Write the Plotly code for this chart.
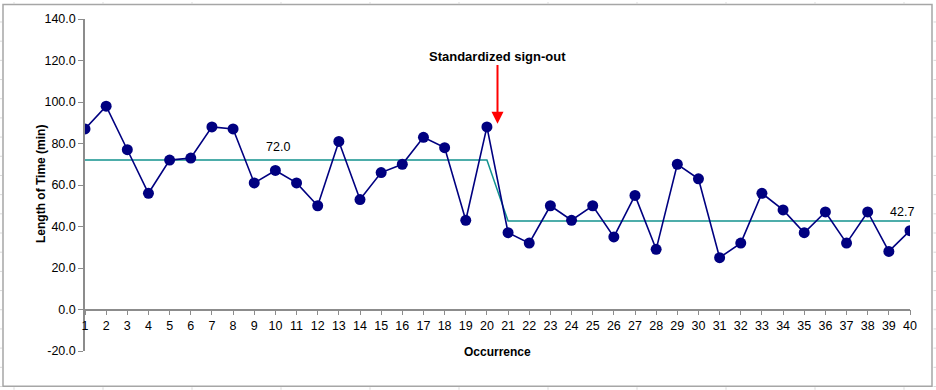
import plotly.graph_objects as go

occurrence = list(range(1, 41))
minutes = [87, 98, 77, 56, 72, 73, 88, 87, 61, 67,
           61, 50, 81, 53, 66, 70, 83, 78, 43, 88,
           37, 32, 50, 43, 50, 35, 55, 29, 70, 63,
           25, 32, 56, 48, 37, 47, 32, 47, 28, 38]
center_x = [1, 20, 21, 40]
center_y = [72.0, 72.0, 42.7, 42.7]
tick_labels = [str(i) for i in occurrence]

W, H = 936, 390
L, R, T, B = 85, 26, 17, 39
pw, ph = W - L - R, H - T - B
def px(x):
    return (x - L) / pw
def py(y):
    return (H - B - y) / ph

fig = go.Figure()
fig.add_trace(go.Scatter(x=center_x, y=center_y, mode="lines",
                         line=dict(color="#13938F", width=1.5), hoverinfo="skip"))
fig.add_trace(go.Scatter(x=occurrence, y=minutes, mode="lines+markers",
                         line=dict(color="#000080", width=1.6),
                         marker=dict(color="#000080", size=11)))

ymin, ymax = -20, 140
fig.update_layout(
    width=W, height=H, showlegend=False,
    margin=dict(l=L, r=R, t=T, b=B),
    plot_bgcolor="white", paper_bgcolor="white",
    font=dict(family="Liberation Sans, Arial", size=12.5, color="#000"),
    xaxis=dict(range=[1, 40], tickmode="array", tickvals=occurrence, ticktext=tick_labels,
               showgrid=False, zeroline=False, showline=True, linecolor="#8c8c8c", linewidth=1.5,
               ticks="outside", ticklen=5, tickcolor="#8c8c8c", anchor="free",
               position=(0 - ymin) / (ymax - ymin), tickfont=dict(size=12.5)),
    yaxis=dict(range=[ymin, ymax], tickvals=[-20, 0, 20, 40, 60, 80, 100, 120, 140],
               ticktext=["-20.0", "0.0", "20.0", "40.0", "60.0", "80.0", "100.0", "120.0", "140.0"],
               showgrid=False, zeroline=False, showline=True, linecolor="#8c8c8c", linewidth=1.5,
               ticks="outside", ticklen=5, tickcolor="#8c8c8c", tickfont=dict(size=12.5)),
)

# axis titles
fig.add_annotation(x=px(497), y=py(361), xref="paper", yref="paper", text="<b>Occurrence</b>",
                   showarrow=False, font=dict(size=12))
fig.add_annotation(x=px(32), y=py(183), xref="paper", yref="paper", text="<b>Length of Time (min)</b>",
                   showarrow=False, textangle=-90, font=dict(size=12))

# center line labels
fig.add_annotation(x=10.1, y=78.5, text="72.0", showarrow=False, font=dict(size=12.5))
fig.add_annotation(x=39.6, y=46.8, text="42.7", showarrow=False, font=dict(size=12.5))

# intervention annotation
fig.add_annotation(x=20.5, y=89.5, ax=20.5, ay=118.5, axref="x", ayref="y",
                   text="", showarrow=True, arrowhead=2, arrowsize=1.2, arrowwidth=2,
                   arrowcolor="#ff0000")
fig.add_annotation(x=px(497), y=py(45), xref="paper", yref="paper",
                   text="<b>Standardized sign-out</b>", showarrow=False,
                   font=dict(family="Liberation Sans Narrow, Arial Narrow, Liberation Sans", size=13))

# chart frame and spreadsheet cell borders
shapes = [dict(type="rect", xref="paper", yref="paper", x0=px(3), x1=px(932), y0=py(386.5), y1=py(2.5),
               line=dict(color="#a6a6a6", width=1.5), layer="below")]
for xc in [14, 103, 192, 281, 370, 459, 548, 637, 726, 815, 904]:
    for (ya, yb) in [(0, 2), (387.5, 390)]:
        shapes.append(dict(type="line", xref="paper", yref="paper", x0=px(xc), x1=px(xc),
                           y0=py(ya), y1=py(yb), line=dict(color="#d9d9d9", width=1)))
yc = 20
while yc < 390:
    for (xa, xb) in [(0, 2), (933.5, 936)]:
        shapes.append(dict(type="line", xref="paper", yref="paper", x0=px(xa), x1=px(xb),
                           y0=py(yc), y1=py(yc), line=dict(color="#d9d9d9", width=1)))
    yc += 19.3
fig.update_layout(shapes=shapes)

fig.write_html("out.html", config={"displayModeBar": False},
               post_script="document.body.style.margin='0';document.body.style.overflow='hidden';")
